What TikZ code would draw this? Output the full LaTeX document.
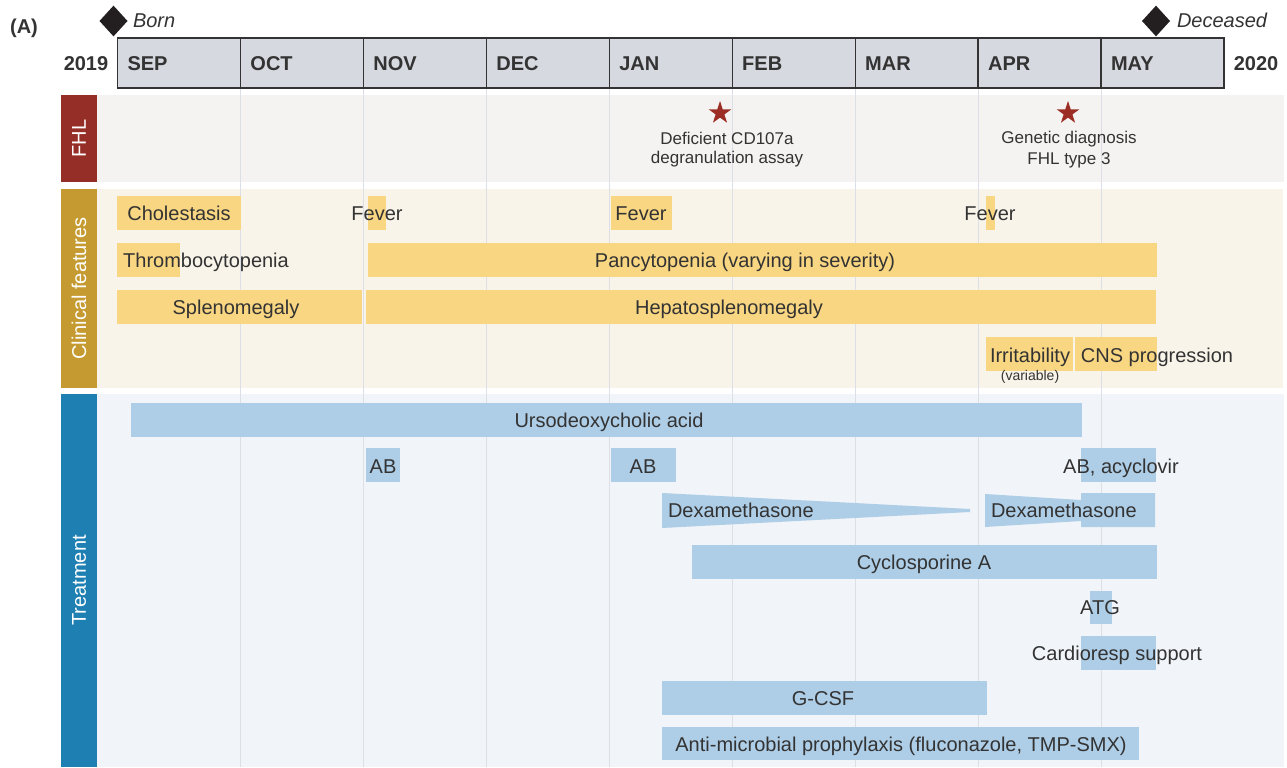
\documentclass[tikz,border=0pt]{standalone}
\usepackage{fontspec}
\setmainfont{Liberation Sans}
\usetikzlibrary{shapes.geometric}
\definecolor{txt}{HTML}{333333}
\definecolor{hdrfill}{HTML}{D6D9E0}
\definecolor{hdrline}{HTML}{333333}
\definecolor{fhlc}{HTML}{952E26}
\definecolor{fhlbg}{HTML}{F4F3F1}
\definecolor{clinc}{HTML}{C59B31}
\definecolor{clinbg}{HTML}{F8F4E9}
\definecolor{trtc}{HTML}{1E7FB3}
\definecolor{trtbg}{HTML}{F1F4F8}
\definecolor{ybar}{HTML}{F9D682}
\definecolor{bbar}{HTML}{AECDE6}
\definecolor{starc}{HTML}{9B2D24}
\definecolor{gridc}{HTML}{DCDFE5}
\definecolor{diam}{HTML}{231F20}
\begin{document}
\begin{tikzpicture}[x=0.75pt,y=-0.75pt,
  every node/.style={inner sep=0pt, outer sep=0pt},
  lbl/.style={font=\fontsize{15}{18}\selectfont, text=txt, anchor=base},
  lblw/.style={lbl, anchor=base west},
  small/.style={font=\fontsize{12.75}{15}\selectfont, text=txt, anchor=base},
  tiny/.style={font=\fontsize{10.5}{12}\selectfont, text=txt, anchor=base},
  month/.style={font=\fontsize{15}{18}\selectfont\bfseries, text=txt, anchor=base west},
  year/.style={font=\fontsize{15}{18}\selectfont\bfseries, text=txt, anchor=base},
  side/.style={font=\fontsize{15}{18}\selectfont, text=white, rotate=90},
  yb/.style={fill=ybar},
  bb/.style={fill=bbar},
  mark star/.style={star, star points=5, star point ratio=2.6, fill=starc, minimum size=18pt},
  mark diamond/.style={diamond, fill=diam, minimum width=21pt, minimum height=23pt, aspect=1}
]
\useasboundingbox (0,0) rectangle (1287,767);

% band backgrounds
\fill[fhlbg] (97,95) rectangle (1284,182);
\fill[clinbg] (97,189) rectangle (1283,388);
\fill[trtbg] (97,394) rectangle (1284,767);
% side labels
\fill[fhlc] (61,95) rectangle (97,182);
\fill[clinc] (61,189) rectangle (97,388);
\fill[trtc] (61,394) rectangle (97,767);
\node[side] (sfhl) at (79,138.5) {FHL};
\node[side] (sclin) at (79,288.5) {Clinical features};
\node[side] (strt) at (79,580.5) {Treatment};

% gridlines
\foreach \i in {1,...,8}{
  \draw[gridc, line width=0.8pt] ({117.5+122.94*\i},88) -- ({117.5+122.94*\i},767);
}

% header
\foreach \m [count=\i from 0] in {SEP,OCT,NOV,DEC,JAN,FEB,MAR,APR,MAY}{
  \draw[fill=hdrfill, draw=hdrline, line width=0.9pt] ({117.5+122.94*\i},38) rectangle ({117.5+122.94*(\i+1)},88);
  \node[month] (m\i) at ({127.5+122.94*\i},70) {\m};
}
\node[year] (y2019) at (86,70) {2019};
\node[year] (y2020) at (1256,70) {2020};
\node[font=\fontsize{15}{18}\selectfont\bfseries, text=txt, anchor=base] (panel) at (24,34) {(A)};

% born / deceased
\node[mark diamond] (born) at (113.5,21) {};
\node[lblw, font=\fontsize{15}{18}\selectfont\itshape] (borntxt) at (133,28) {Born};
\node[mark diamond] (dec) at (1156,21) {};
\node[lblw, font=\fontsize{15}{18}\selectfont\itshape] (dectxt) at (1177,28) {Deceased};

% FHL
\node[mark star] (star1) at (720,113) {};
\node[small] (f1a) at (727,144) {Deficient CD107a};
\node[small] (f1b) at (727,163) {degranulation assay};
\node[mark star] (star2) at (1068,113) {};
\node[small] (f2a) at (1069,143) {Genetic diagnosis};
\node[small] (f2b) at (1069,164) {FHL type 3};

% Clinical features bars
\fill[yb] (117,196) rectangle (241,230);
\fill[yb] (368,196) rectangle (386,230);
\fill[yb] (611,196) rectangle (672,230);
\fill[yb] (986,196) rectangle (995,230);
\fill[yb] (117,243) rectangle (180,277);
\fill[yb] (368,243) rectangle (1157,277);
\fill[yb] (117,290) rectangle (362,324);
\fill[yb] (366,290) rectangle (1156,324);
\fill[yb] (986,337) rectangle (1073,371);
\fill[yb] (1075,337) rectangle (1157,371);

\node[lbl] (chol) at (179,220) {Cholestasis};
\node[lbl] (fev1) at (377,220) {Fever};
\node[lbl] (fev2) at (641,220) {Fever};
\node[lbl] (fev3) at (990,220) {Fever};
\node[lbl] (thr) at (206,267) {Thrombocytopenia};
\node[lbl] (pan) at (745,267) {Pancytopenia (varying in severity)};
\node[lbl] (spl) at (236,314) {Splenomegaly};
\node[lbl] (hep) at (729,314) {Hepatosplenomegaly};
\node[lbl] (irr) at (1030,362) {Irritability};
\node[tiny] (var) at (1030,380) {(variable)};
\node[lbl] (cns) at (1157,362) {CNS progression};

% Treatment bars
\fill[bb] (131,403) rectangle (1082,437);
\fill[bb] (366,448) rectangle (400,482);
\fill[bb] (611,448) rectangle (676,482);
\fill[bb] (1081,448) rectangle (1156,482);
\fill[bb] (662,493) -- (970,509) -- (970,512) -- (662,528) -- cycle;
\fill[bb] (985,494) -- (1081,500) -- (1081,493) -- (1155,493) -- (1155,527) -- (1081,527) -- (1081,521) -- (985,527) -- cycle;
\fill[bb] (692,545) rectangle (1157,579);
\fill[bb] (1090,591) rectangle (1112,624);
\fill[bb] (1081,636) rectangle (1156,670);
\fill[bb] (662,681) rectangle (987,715);
\fill[bb] (662,727) rectangle (1139,760);

\node[lbl] (urso) at (609,427) {Ursodeoxycholic acid};
\node[lbl] (ab1) at (383,473) {AB};
\node[lbl] (ab2) at (643,473) {AB};
\node[lbl] (ab3) at (1121,473) {AB, acyclovir};
\node[lblw] (dex1) at (668,517) {Dexamethasone};
\node[lblw] (dex2) at (991,517) {Dexamethasone};
\node[lbl] (cyc) at (924,569) {Cyclosporine A};
\node[lbl] (atg) at (1100,614) {ATG};
\node[lbl] (card) at (1117,660) {Cardioresp support};
\node[lbl] (gcsf) at (823,705) {G-CSF};
\node[lbl] (anti) at (901,751) {Anti-microbial prophylaxis (fluconazole, TMP-SMX)};
\end{tikzpicture}
\end{document}
